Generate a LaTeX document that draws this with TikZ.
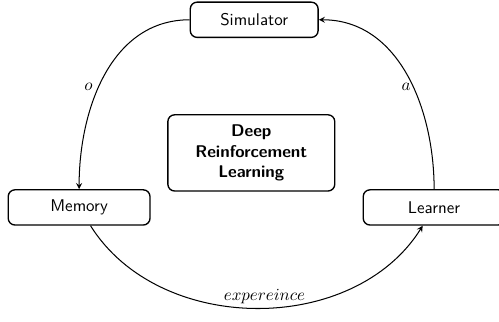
\documentclass[tikz,border=0pt]{standalone}
\renewcommand{\familydefault}{\sfdefault}
\begin{document}
\begin{tikzpicture}[box/.style={draw=black,thick,rounded corners=4pt,minimum height=0.73cm},>=stealth]
\useasboundingbox (0,0) rectangle (10.345,-6.675);
\node[box,minimum width=2.65cm] (sim) at (5.27,-0.41) {Simulator};
\node[box,minimum width=2.94cm] (mem) at (1.64,-4.30) {Memory};
\node[box,minimum width=2.94cm] (learner) at (9.00,-4.30) {Learner};
\node[box,minimum width=3.46cm,minimum height=1.58cm,align=center,font=\bfseries] (drl) at (5.21,-3.17) {Deep\\Reinforcement\\Learning};
\draw [->,semithick] (sim.west) to [out=180,in=90] node[pos=0.56,left] {$o$} (mem.north);
\draw [->,semithick] (learner.north) to [out=90,in=0] node[pos=0.44,left,inner sep=1pt] {$a$} (sim.east);
\draw [->,semithick] (mem) to [bend right=58] node[pos=0.52,above,inner sep=2pt] {$expereince$} (learner);
\end{tikzpicture}
\end{document}
